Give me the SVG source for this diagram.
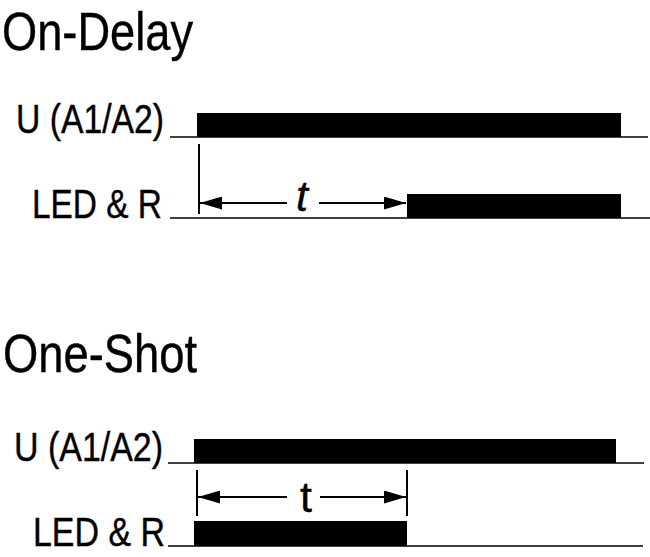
<svg xmlns="http://www.w3.org/2000/svg" width="650" height="557" viewBox="0 0 650 557">
<defs>
<style>
.title{font-family:"Liberation Sans",Arial,sans-serif;font-size:53px;fill:#000;stroke:#000;stroke-width:0.4}
.lbl{font-family:"Liberation Sans",Arial,sans-serif;font-size:40px;fill:#000;stroke:#000;stroke-width:0.4}
.tl{font-family:"Liberation Sans",Arial,sans-serif;font-size:43px;fill:#000;stroke:#000;stroke-width:0.4}
.base{stroke:#000;stroke-width:1.6;fill:none}
.mark{stroke:#000;stroke-width:2;fill:none}
.dim{stroke:#000;stroke-width:2.2;fill:none}
.bar{fill:#000}
</style>
<marker id="ah" viewBox="0 0 22 13" refX="22" refY="6.5" markerWidth="22" markerHeight="13" markerUnits="userSpaceOnUse" orient="auto">
<path d="M0,0 L22,6.5 L0,13 Z" fill="#000"/>
</marker>
</defs>
<rect width="650" height="557" fill="#fff"/>

<g id="on-delay">
<text class="title" x="2" y="50" textLength="191" lengthAdjust="spacingAndGlyphs">On-Delay</text>
<g id="od-u">
<text class="lbl" x="16" y="133" textLength="148" lengthAdjust="spacingAndGlyphs">U (A1/A2)</text>
<line class="base" x1="170" y1="137" x2="648" y2="137"/>
<rect class="bar" x="197" y="113" width="424" height="24"/>
</g>
<g id="od-led">
<text class="lbl" x="32" y="218" textLength="130" lengthAdjust="spacingAndGlyphs">LED &amp; R</text>
<line class="base" x1="170" y1="218" x2="650" y2="218"/>
<rect class="bar" x="407" y="194" width="214" height="24"/>
</g>
<g id="od-t">
<text class="tl" x="296" y="211" font-style="italic">t</text>
</g>
</g>

<g id="one-shot">
<text class="title" x="3" y="372" textLength="194" lengthAdjust="spacingAndGlyphs">One-Shot</text>
<g id="os-u">
<text class="lbl" x="14" y="461" textLength="149" lengthAdjust="spacingAndGlyphs">U (A1/A2)</text>
<line class="base" x1="168" y1="463" x2="644" y2="463"/>
<rect class="bar" x="194" y="439" width="422" height="24"/>
</g>
<g id="os-led">
<text class="lbl" x="33" y="546" textLength="132" lengthAdjust="spacingAndGlyphs">LED &amp; R</text>
<line class="base" x1="168" y1="546" x2="643" y2="546"/>
<rect class="bar" x="194" y="521" width="213" height="25"/>
</g>
<g id="os-t">
<text class="tl" x="300" y="512">t</text>
</g>
</g>

<g id="connectors">
<line class="mark" x1="199" y1="144" x2="199" y2="214"/>
<line class="dim" x1="287" y1="203" x2="200" y2="203" marker-end="url(#ah)"/>
<line class="dim" x1="319" y1="203" x2="406" y2="203" marker-end="url(#ah)"/>
<line class="mark" x1="197" y1="470" x2="197" y2="516"/>
<line class="mark" x1="407" y1="470" x2="407" y2="516"/>
<line class="dim" x1="287" y1="497" x2="198" y2="497" marker-end="url(#ah)"/>
<line class="dim" x1="320" y1="497" x2="406" y2="497" marker-end="url(#ah)"/>
</g>
</svg>
